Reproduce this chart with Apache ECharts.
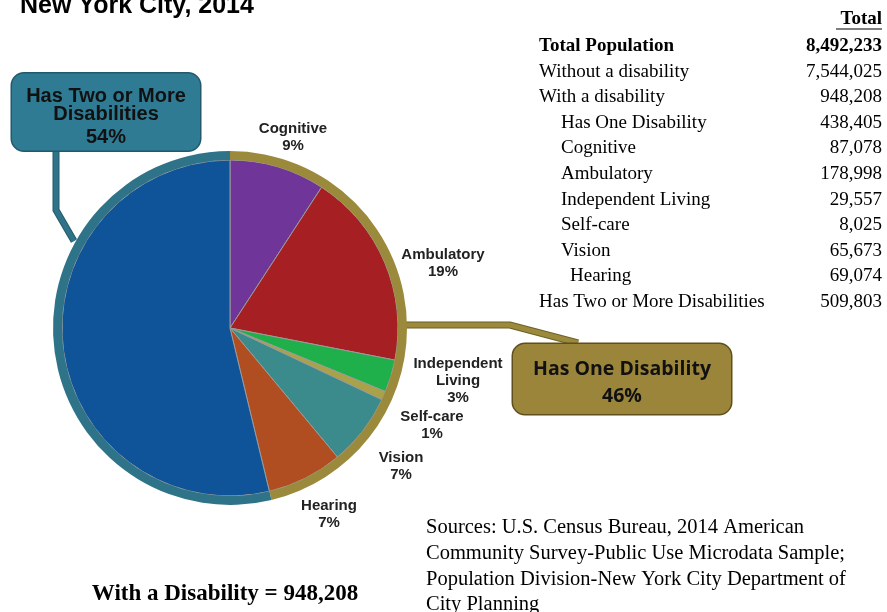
<!DOCTYPE html>
<html>
<head>
<meta charset="utf-8">
<script src="https://cdn.jsdelivr.net/npm/echarts@6/dist/echarts.min.js"></script>
<style>
  html, body { margin: 0; padding: 0; background: #ffffff; }
  #chart { width: 887px; height: 612px; }
</style>
</head>
<body>
<div id="chart"></div>
<script>
// Disability types (one disability) plus the two-or-more group, clockwise from 12 o'clock
const sliceNames = ['Cognitive', 'Ambulatory', 'Independent Living', 'Self-care', 'Vision', 'Hearing', 'Has Two or More Disabilities'];
const sliceLabels = ['Cognitive', 'Ambulatory', 'Independent\nLiving', 'Self-care', 'Vision', 'Hearing', ''];
const sliceValues = [87078, 178998, 29557, 8025, 65673, 69074, 509803];

// Outer ring groups
const groupNames = ['Has One Disability', 'Has Two or More Disabilities'];
const groupLabels = ['Has One Disability', 'Has Two or More\nDisabilities'];
const groupValues = [438405, 509803];

// Summary table
const tableHeader = 'Total';
const tableRows = ['Total Population', 'Without a disability', 'With a disability', 'Has One Disability', 'Cognitive', 'Ambulatory', 'Independent Living', 'Self-care', 'Vision', 'Hearing', 'Has Two or More Disabilities'];
const tableValues = [8492233, 7544025, 948208, 438405, 87078, 178998, 29557, 8025, 65673, 69074, 509803];
const tableIndent = [0, 0, 0, 1, 1, 1, 1, 1, 1, 2, 0];

const titleText = 'New York City, 2014';
const sourceLines = [
  'Sources: U.S. Census Bureau, 2014 American',
  'Community Survey-Public Use Microdata Sample;',
  'Population Division-New York City Department of',
  'City Planning'
];

// Styling
const sliceColors = ['#703598', '#a51f23', '#20b04b', '#aaa248', '#3b8a8c', '#b04e21', '#0f5399'];
const groupColors = ['#9b8a3b', '#2f7389'];
const boxColors = ['#9a853a', '#2f7b94'];
const boxBorders = ['#5e4f1c', '#22596c'];
const connectorEdges = ['#6d5f26', '#235a6c'];

const center = [230, 328];
// Label anchors for the pie slices
const sliceLabelPos = [[293, 137], [443, 263], [458, 381], [432, 425], [401, 466], [329, 514]];
// Callout boxes and their connectors
const boxPos = [[622, 379], [106, 112]];
const connectors = [
  [[405, 325], [510, 325], [578, 343]],
  [[56, 150], [56, 210], [74, 241]]
];

function fmt(n) {
  return String(n).replace(/\B(?=(\d{3})+(?!\d))/g, ',');
}

const graphics = [];
graphics.push({
  type: 'text', left: 20, top: -6,
  style: { text: titleText, font: 'bold 25px "Liberation Sans", Arial, sans-serif', fill: '#000' }
});

// Dark edge under each callout connector
connectors.forEach((pts, i) => {
  graphics.push({
    type: 'polyline', z: 0,
    shape: { points: pts },
    style: { stroke: connectorEdges[i], lineWidth: 7, fill: null, lineJoin: 'miter' }
  });
});

// Table
const tableRight = 882;
const rowTop = 46;
const rowStep = 25.6;
const indentX = [539, 561, 570];
graphics.push({
  type: 'text', x: tableRight, y: 19,
  style: { text: tableHeader, font: 'bold 19px "Liberation Serif", "Times New Roman", serif', fill: '#000', align: 'right', verticalAlign: 'middle' }
});
graphics.push({
  type: 'line', shape: { x1: 836, y1: 29, x2: tableRight, y2: 29 },
  style: { stroke: '#000', lineWidth: 1.2 }
});
tableRows.forEach((name, i) => {
  const bold = i === 0 ? 'bold ' : '';
  const font = bold + '19px "Liberation Serif", "Times New Roman", serif';
  const y = rowTop + i * rowStep;
  graphics.push({
    type: 'text', x: indentX[tableIndent[i]], y: y,
    style: { text: name, font: font, fill: '#000', align: 'left', verticalAlign: 'middle' }
  });
  graphics.push({
    type: 'text', x: tableRight, y: y,
    style: { text: fmt(tableValues[i]), font: font, fill: '#000', align: 'right', verticalAlign: 'middle' }
  });
});

// Sources
sourceLines.forEach((line, i) => {
  graphics.push({
    type: 'text', x: 426, y: 528 + i * 25.7,
    style: { text: line, font: '20.5px "Liberation Serif", "Times New Roman", serif', fill: '#000', align: 'left', verticalAlign: 'middle' }
  });
});

// Total with a disability
const withDisability = groupValues.reduce((a, b) => a + b, 0);
graphics.push({
  type: 'text', x: 225, y: 594,
  style: { text: 'With a Disability = ' + fmt(withDisability), font: 'bold 23px "Liberation Serif", "Times New Roman", serif', fill: '#000', align: 'center', verticalAlign: 'middle' }
});

const chart = echarts.init(document.getElementById('chart'), null, { renderer: 'canvas' });

chart.setOption({
  backgroundColor: '#ffffff',
  animation: false,
  graphic: graphics,
  series: [
    {
      type: 'pie',
      center: center,
      radius: [0, 168],
      startAngle: 90,
      clockwise: true,
      percentPrecision: 0,
      silent: true,
      itemStyle: { borderColor: '#9a9a9a', borderWidth: 1 },
      data: sliceNames.map((n, i) => ({
        name: n,
        value: sliceValues[i],
        itemStyle: { color: sliceColors[i] },
        label: { show: i < 6 }
      })),
      label: {
        show: true,
        position: 'outside',
        formatter: p => sliceLabels[p.dataIndex] + '\n' + p.percent + '%',
        fontFamily: '"Liberation Sans", Arial, sans-serif',
        fontWeight: 'bold',
        fontSize: 15,
        lineHeight: 17,
        color: '#222',
        align: 'center'
      },
      labelLine: { show: false },
      labelLayout: p => {
        const pos = sliceLabelPos[p.dataIndex];
        if (!pos) return {};
        return { x: pos[0], y: pos[1], align: 'center', verticalAlign: 'middle' };
      }
    },
    {
      type: 'pie',
      center: center,
      radius: [168, 177],
      startAngle: 90,
      clockwise: true,
      percentPrecision: 0,
      silent: true,
      itemStyle: { borderWidth: 0 },
      data: groupNames.map((n, i) => ({
        name: n,
        value: groupValues[i],
        itemStyle: { color: groupColors[i] },
        label: {
          backgroundColor: boxColors[i],
          borderColor: boxBorders[i],
          borderWidth: 1.5,
          borderRadius: 12,
          width: i === 0 ? 202 : 172,
          padding: i === 0 ? [12, 8, 4, 8] : [14, 8, 0, 8]
        },
        labelLine: { lineStyle: { color: groupColors[i], width: 5 } }
      })),
      label: {
        show: true,
        position: 'outside',
        align: 'center',
        formatter: p => p.dataIndex === 0
          ? '{a|' + groupLabels[0] + '}\n{b|' + p.percent + '%}'
          : groupLabels[1].split('\n').map(s => '{c|' + s + '}').join('\n') + '\n{d|' + p.percent + '%}',
        rich: {
          a: { fontFamily: '"Open Sans", sans-serif', fontWeight: 'bold', fontSize: 19.5, lineHeight: 27, color: '#111', align: 'center' },
          b: { fontFamily: '"Open Sans", sans-serif', fontWeight: 'bold', fontSize: 19.5, lineHeight: 27, color: '#111', align: 'center' },
          c: { fontFamily: '"Liberation Sans", Arial, sans-serif', fontWeight: 'bold', fontSize: 20, lineHeight: 18, color: '#111', align: 'center' },
          d: { fontFamily: '"Liberation Sans", Arial, sans-serif', fontWeight: 'bold', fontSize: 20, lineHeight: 27, color: '#111', align: 'center' }
        }
      },
      labelLine: { show: true, smooth: false },
      labelLayout: p => {
        const pos = boxPos[p.dataIndex];
        return {
          x: pos[0], y: pos[1], align: 'center', verticalAlign: 'middle',
          labelLinePoints: connectors[p.dataIndex]
        };
      }
    }
  ]
});
</script>
</body>
</html>
